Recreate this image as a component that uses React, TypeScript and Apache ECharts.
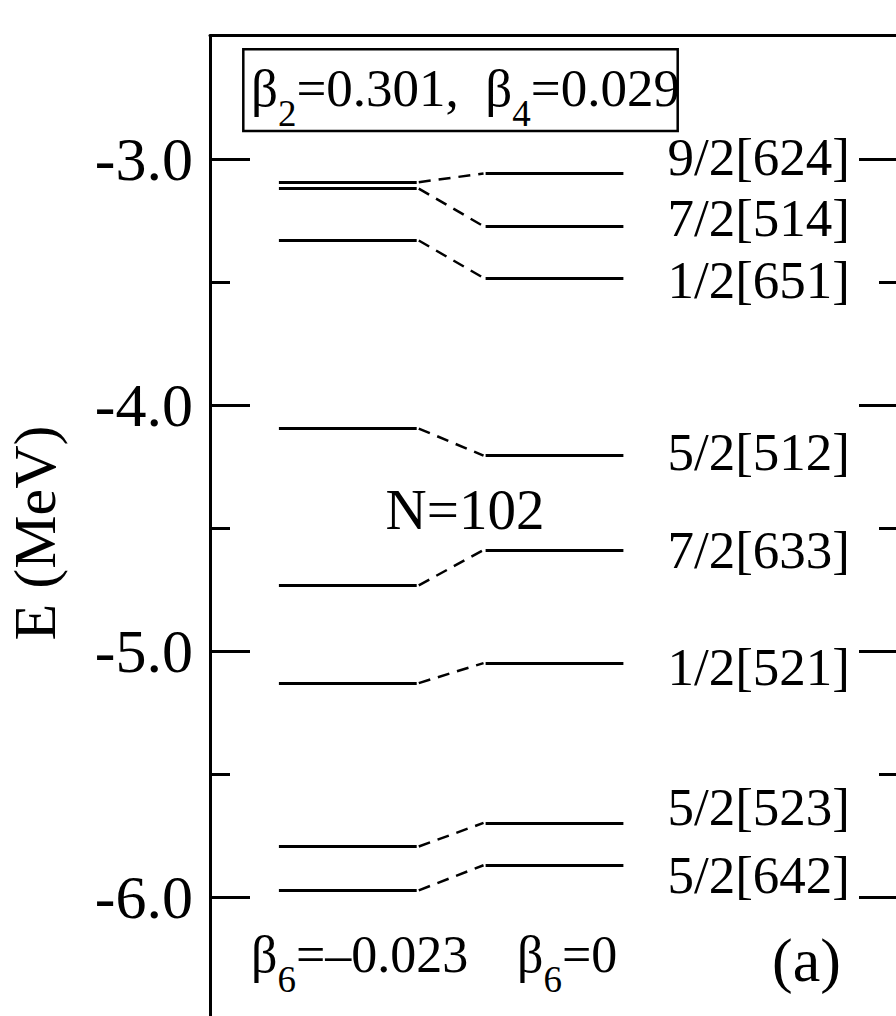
import React, { useEffect, useRef } from 'react';
import * as echarts from 'echarts';

// ---- data ----
const levelNames = ['9/2[624]', '7/2[514]', '1/2[651]', '5/2[512]', '7/2[633]', '1/2[521]', '5/2[523]', '5/2[642]'];
const energiesBeta6Neg = [-3.095, -3.121, -3.332, -4.096, -4.733, -5.13, -5.794, -5.972];
const energiesBeta6Zero = [-3.06, -3.274, -3.484, -4.206, -4.589, -5.049, -5.698, -5.87];
const majorTicks = [-6, -5, -4, -3];
const minorTicks = [-5.5, -4.5, -3.5];
const yMin = -6.5;
const yMax = -2.5;

// ---- layout ----
const leftColumn = [1, 3];
const rightColumn = [4, 6];
const connectorColumn = [3.03, 3.97];
const labelOffsetsPx = [-17, -8, 2, -3.5, 0, 4, -15.5, 10];
const FONT = 'Liberation Serif';

const frameAxis = (position: 'top' | 'bottom') => ({
  type: 'value',
  min: 0,
  max: 10,
  position,
  axisLine: { show: true, onZero: false, lineStyle: { color: '#000', width: 3 } },
  axisTick: { show: false },
  axisLabel: { show: false },
  splitLine: { show: false },
});

const yAxisDef = (position: 'left' | 'right', ticks: number[], len: number, withLine: boolean, withLabel: boolean) => ({
  type: 'value',
  min: yMin,
  max: yMax,
  position,
  axisLine: { show: withLine, onZero: false, lineStyle: { color: '#000', width: 3 } },
  axisTick: { show: true, inside: true, length: len, customValues: ticks, lineStyle: { color: '#000', width: 3 } },
  axisLabel: withLabel
    ? {
        show: true,
        customValues: ticks,
        formatter: (v: number) => v.toFixed(1),
        fontFamily: FONT,
        fontSize: 62,
        color: '#000',
        margin: 17,
      }
    : { show: false },
  splitLine: { show: false },
});

const subRich = {
  m: { fontFamily: FONT, fontSize: 53, color: '#000', lineHeight: 60 },
  s: { fontFamily: FONT, fontSize: 37, color: '#000', lineHeight: 60, padding: [50, 0, 0, 0] },
};
const subRichB = {
  m: { fontFamily: FONT, fontSize: 52, color: '#000', lineHeight: 60 },
  s: { fontFamily: FONT, fontSize: 37, color: '#000', lineHeight: 60, padding: [50, 0, 0, 0] },
};

export default function App() {
  const ref = useRef<HTMLDivElement>(null);
  useEffect(() => {
    if (!ref.current) return;
    const chart = echarts.init(ref.current, undefined, { renderer: 'svg' });
    chart.setOption({
      animation: false,
      backgroundColor: '#fff',
      textStyle: { fontFamily: FONT, color: '#000' },
      grid: {
        left: 210,
        right: -3,
        top: 35.7,
        bottom: -4.3,
        containLabel: false,
        outerBoundsMode: 'none',
      },
      xAxis: [frameAxis('bottom'), frameAxis('top')],
      yAxis: [
        {
          ...yAxisDef('left', majorTicks, 40, true, true),
          name: 'E (MeV)',
          nameLocation: 'middle',
          nameGap: 145,
          nameTextStyle: { fontFamily: FONT, fontSize: 60, color: '#000', padding: [0, 10, 0, 0] },
        },
        yAxisDef('left', minorTicks, 20, false, false),
        yAxisDef('right', majorTicks, 40, true, false),
        yAxisDef('right', minorTicks, 20, false, false),
      ],
      series: [
        {
          type: 'lines',
          coordinateSystem: 'cartesian2d',
          silent: true,
          lineStyle: { color: '#000', width: 3, opacity: 1, curveness: 0 },
          data: energiesBeta6Neg.map((e) => ({ coords: [[leftColumn[0], e], [leftColumn[1], e]] })),
        },
        {
          type: 'lines',
          coordinateSystem: 'cartesian2d',
          silent: true,
          lineStyle: { color: '#000', width: 3, opacity: 1, curveness: 0 },
          data: energiesBeta6Zero.map((e) => ({ coords: [[rightColumn[0], e], [rightColumn[1], e]] })),
        },
        {
          type: 'lines',
          coordinateSystem: 'cartesian2d',
          silent: true,
          lineStyle: { color: '#000', width: 2.5, opacity: 1, curveness: 0, type: [12, 8] },
          data: energiesBeta6Neg.map((e, i) => ({
            coords: [[connectorColumn[0], e], [connectorColumn[1], energiesBeta6Zero[i]]],
          })),
        },
        {
          type: 'scatter',
          symbolSize: 0,
          silent: true,
          itemStyle: { opacity: 1, color: '#000' },
          label: {
            show: true,
            position: 'right',
            distance: 44,
            formatter: (p: any) => p.name,
            fontFamily: FONT,
            fontSize: 53,
            color: '#000',
            opacity: 1,
          },
          data: energiesBeta6Zero.map((e, i) => ({
            name: levelNames[i],
            value: [rightColumn[1], e],
            label: { offset: [0, labelOffsetsPx[i]] },
          })),
        },
      ],
      graphic: [
        {
          type: 'rect',
          shape: { x: 243.3, y: 49.3, width: 434.4, height: 81.7 },
          style: { fill: 'none', stroke: '#000', lineWidth: 2.5 },
        },
        {
          type: 'text',
          x: 251,
          y: 58.1,
          style: {
            text: '{m|β}{s|2}{m|=0.301,  β}{s|4}{m|=0.029}',
            rich: subRich,
            verticalAlign: 'top',
            align: 'left',
          },
        },
        {
          type: 'text',
          x: 251,
          y: 924.2,
          style: {
            text: '{m|β}{s|6}{m|=–0.023}',
            rich: subRichB,
            verticalAlign: 'top',
            align: 'left',
          },
        },
        {
          type: 'text',
          x: 517,
          y: 924.2,
          style: {
            text: '{m|β}{s|6}{m|=0}',
            rich: subRichB,
            verticalAlign: 'top',
            align: 'left',
          },
        },
        {
          type: 'text',
          x: 465,
          y: 509,
          style: { text: 'N=102', fontFamily: FONT, fontSize: 57, fill: '#000', align: 'center', verticalAlign: 'middle' },
        },
        {
          type: 'text',
          x: 772,
          y: 960,
          style: { text: '(a)', fontFamily: FONT, fontSize: 62, fill: '#000', align: 'left', verticalAlign: 'middle' },
        },
      ],
    });
    return () => chart.dispose();
  }, []);
  return <div ref={ref} style={{ position: 'absolute', left: 0, top: 0, width: 896, height: 1016 }} />;
}
